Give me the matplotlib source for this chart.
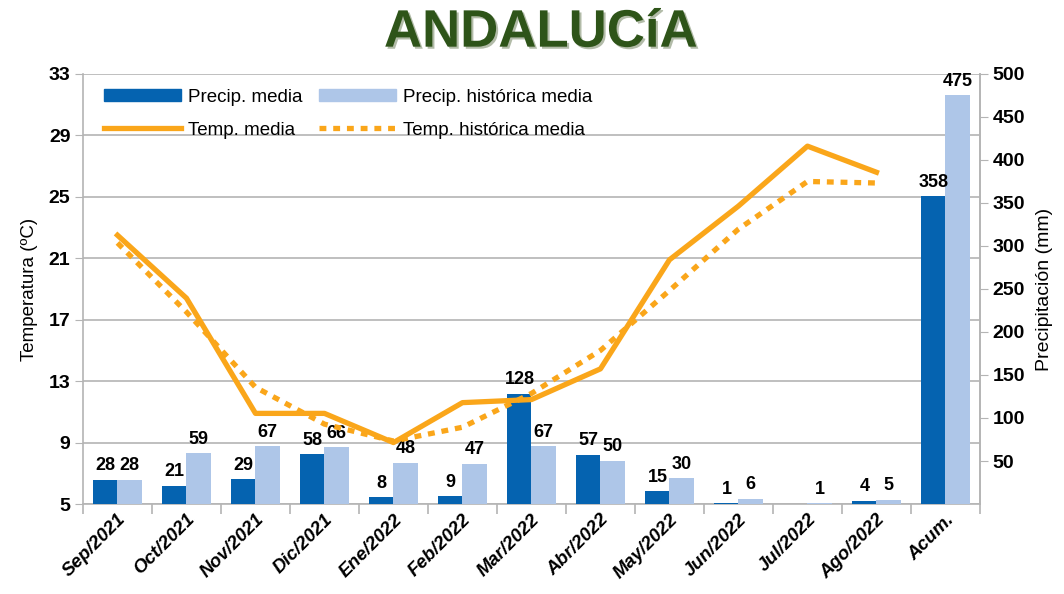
import numpy as np
import matplotlib
matplotlib.use("Agg")
import matplotlib.pyplot as plt
import matplotlib.patheffects as pe
from matplotlib.lines import Line2D
from matplotlib.patches import Patch

plt.rcParams['font.family'] = ['Liberation Sans', 'DejaVu Sans']

categories = ['Sep/2021', 'Oct/2021', 'Nov/2021', 'Dic/2021', 'Ene/2022', 'Feb/2022',
              'Mar/2022', 'Abr/2022', 'May/2022', 'Jun/2022', 'Jul/2022', 'Ago/2022', 'Acum.']
precip_media = [28, 21, 29, 58, 8, 9, 128, 57, 15, 1, np.nan, 4, 358]
precip_hist = [28, 59, 67, 66, 48, 47, 67, 50, 30, 6, 1, 5, 475]
temp_media = [22.5, 18.4, 10.9, 10.9, 9.0, 11.6, 11.8, 13.8, 20.9, 24.4, 28.3, 26.6]
temp_hist = [22.0, 17.5, 12.6, 10.2, 9.1, 10.0, 12.2, 15.0, 18.9, 22.9, 26.0, 25.9]

dark_blue = '#0563B0'
light_blue = '#AEC6E8'
orange = '#FAA61A'
grid_grey = '#B4B4B4'

fig = plt.figure(figsize=(10.64, 5.94), dpi=100)
ax = fig.add_axes([0.078, 0.1515, 0.843, 0.724])
x = np.arange(len(categories))

# temperature axis (left) with grid
ax.set_xlim(-0.5, len(categories) - 0.5)
ax.set_ylim(5, 33)
ax.set_yticks(np.arange(5, 34, 4))
ax.grid(axis='y', color=grid_grey, lw=1.2)
ax.set_axisbelow(True)
ax.set_ylabel('Temperatura (ºC)', fontsize=13.5, labelpad=8)
ax.spines['top'].set_visible(False)
for s in ['left', 'bottom', 'right']:
    ax.spines[s].set_color(grid_grey)
    ax.spines[s].set_linewidth(1.2)
ax.tick_params(axis='y', length=6, color=grid_grey, labelsize=14, pad=3)
for t in ax.get_yticklabels():
    t.set_fontweight('bold')
ax.set_xticks(x)
ax.set_xticks(np.arange(-0.5, len(categories), 1), minor=True)
ax.tick_params(axis='x', which='major', length=0, pad=5)
ax.tick_params(axis='x', which='minor', length=7, color=grid_grey, width=1.2)
ax.set_xticklabels(categories, rotation=45, ha='right', rotation_mode='anchor',
                   fontsize=13.5, fontweight='bold', fontstyle='italic')

# precipitation axis (right) with bars
ax2 = ax.twinx()
ax2.set_ylim(0, 500)
ax2.set_yticks(np.arange(50, 501, 50))
w = 0.35
b1 = ax2.bar(x - w / 2, precip_media, w, color=dark_blue)
b2 = ax2.bar(x + w / 2, precip_hist, w, color=light_blue)
lab1 = ['' if np.isnan(v) else f'{v:.0f}' for v in precip_media]
ax2.bar_label(b1, labels=lab1, padding=4, fontsize=13, fontweight='bold')
ax2.bar_label(b2, labels=[f'{v:.0f}' for v in precip_hist], padding=4, fontsize=13, fontweight='bold')
ax2.set_ylabel('Precipitación (mm)', fontsize=14, labelpad=8)
for s in ['top', 'left', 'bottom']:
    ax2.spines[s].set_visible(False)
ax2.spines['right'].set_color(grid_grey)
ax2.spines['right'].set_linewidth(1.2)
ax2.tick_params(axis='y', length=6, color=grid_grey, labelsize=14, pad=3)
for t in ax2.get_yticklabels():
    t.set_fontweight('bold')

# lines on top
ax3 = ax.twinx()
ax3.set_ylim(5, 33)
ax3.set_axis_off()
ax3.plot(x[:len(temp_media)], temp_media, color=orange, lw=3.8)
ax3.plot(x[:len(temp_hist)], temp_hist, color=orange, lw=3.8, ls=(0, (1.3, 1.3)))

handles = [Patch(color=dark_blue), Line2D([], [], color=orange, lw=3.8),
           Patch(color=light_blue), Line2D([], [], color=orange, lw=3.8, ls=(0, (1.3, 1.3)))]
labels = ['Precip. media', 'Temp. media', 'Precip. histórica media', 'Temp. histórica media']
leg = ax3.legend(handles, labels, ncol=2, loc='upper left', bbox_to_anchor=(0.005, 1.005),
                 frameon=False, fontsize=13.5, handlelength=4.1, handleheight=0.55,
                 columnspacing=0.9, handletextpad=0.35, labelspacing=0.85)

fig.text(0.508, 0.945, 'ANDALUCíA', ha='center', va='center', fontsize=38, fontweight='bold',
         color='#2E5419',
         path_effects=[pe.withSimplePatchShadow(offset=(1.5, -1.5), shadow_rgbFace='#7f8f6f', alpha=0.6)])

fig.savefig('out.png', dpi=100)
